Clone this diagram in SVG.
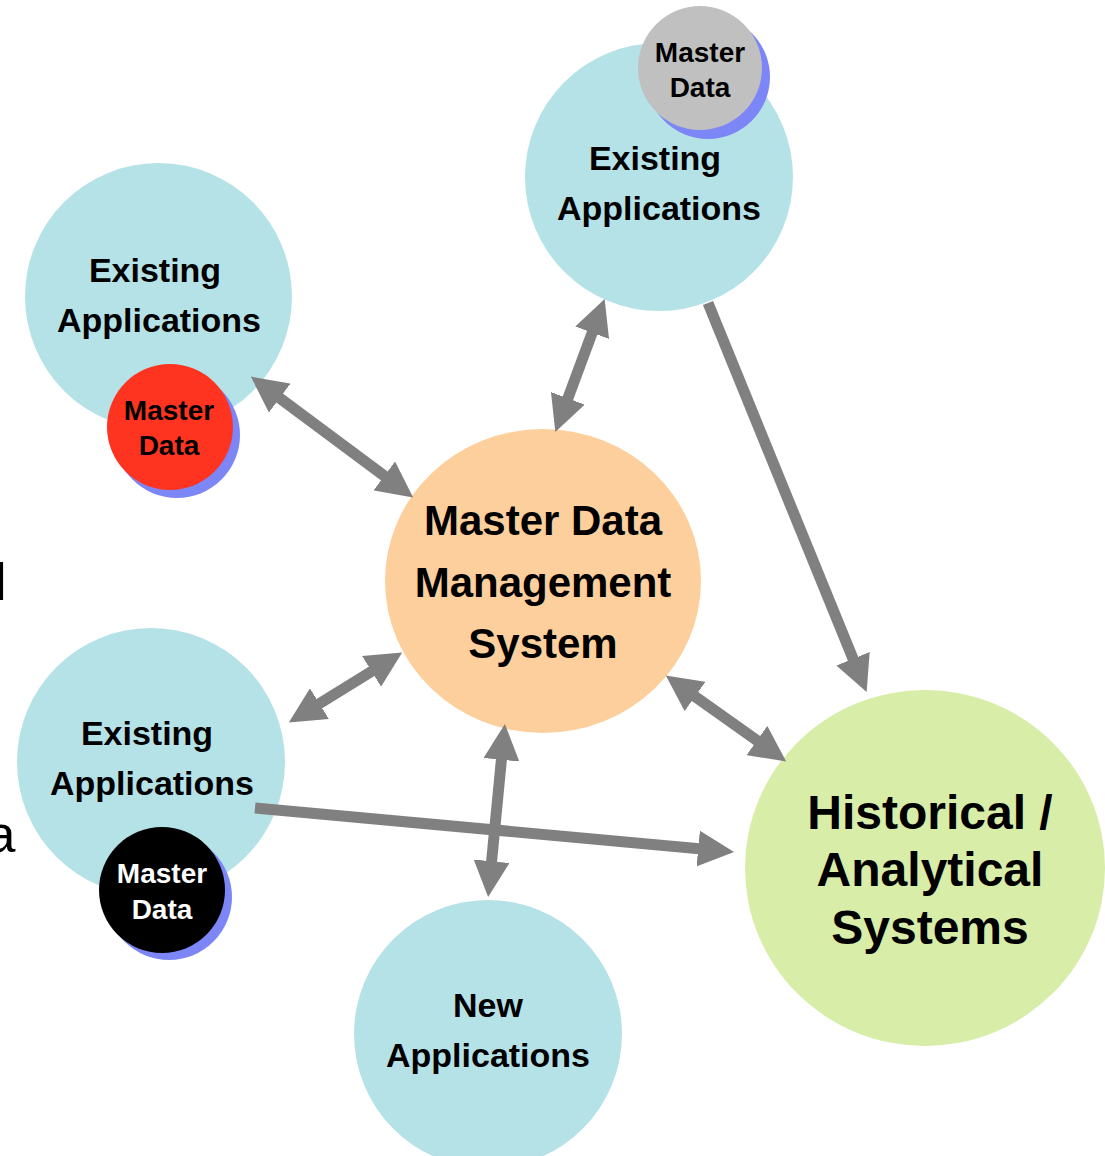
<svg xmlns="http://www.w3.org/2000/svg" width="1105" height="1156" viewBox="0 0 1105 1156">
<defs>
<style>
.app{fill:#b5e2e7}
.mdm{fill:#fdcf9c}
.hist{fill:#d8eda8}
.shadow{fill:#7d86f6}
.t{font-family:"Liberation Sans",Arial,sans-serif;font-weight:bold;text-anchor:middle;fill:#000}
.t34{font-size:34px}
.t28{font-size:28px}
.t42{font-size:42px}
.t48{font-size:48px}
.edge{font-family:"Liberation Sans",Arial,sans-serif;font-size:52px;fill:#000}
.conn{stroke:#808080;stroke-width:11;fill:none}
</style>
<marker id="head" markerUnits="userSpaceOnUse" markerWidth="36" markerHeight="36" refX="1" refY="18" orient="auto-start-reverse">
<path d="M0,0 L36,18 L0,36 z" fill="#808080"/>
</marker>
</defs>
<rect width="1105" height="1156" fill="#fff"/>
<text class="edge" x="-5" y="600">l</text>
<text class="edge" x="-13.5" y="852">a</text>

<g id="node-existing-topleft">
<circle class="app" cx="158.5" cy="296.5" r="133.5"/>
<text class="t t34" x="155" y="282">Existing</text>
<text class="t t34" x="159" y="332">Applications</text>
</g>
<g id="node-md-red">
<circle class="shadow" cx="177" cy="435" r="63"/>
<circle cx="170" cy="427" r="63" fill="#fe3420"/>
<text class="t t28" x="169" y="420">Master</text>
<text class="t t28" x="169" y="455">Data</text>
</g>

<g id="node-existing-topright">
<circle class="app" cx="659" cy="177" r="134"/>
<text class="t t34" x="655" y="170">Existing</text>
<text class="t t34" x="659" y="220">Applications</text>
</g>
<g id="node-md-gray">
<circle class="shadow" cx="708" cy="77" r="62"/>
<circle cx="700" cy="68" r="62" fill="#c0c0c0"/>
<text class="t t28" x="700" y="62">Master</text>
<text class="t t28" x="700" y="97">Data</text>
</g>

<g id="node-existing-bottomleft">
<circle class="app" cx="151" cy="762" r="134"/>
<text class="t t34" x="147" y="745">Existing</text>
<text class="t t34" x="152" y="795">Applications</text>
</g>
<g id="node-md-black">
<circle class="shadow" cx="169" cy="897" r="63"/>
<circle cx="162" cy="890" r="63" fill="#000"/>
<text class="t t28" x="162" y="883" style="fill:#fff">Master</text>
<text class="t t28" x="162" y="919" style="fill:#fff">Data</text>
</g>

<g id="node-mdm">
<ellipse class="mdm" cx="543" cy="581" rx="158" ry="152"/>
<text class="t t42" x="543" y="535">Master Data</text>
<text class="t t42" x="543" y="597">Management</text>
<text class="t t42" x="543" y="658">System</text>
</g>

<g id="node-historical">
<ellipse class="hist" cx="925" cy="868" rx="180" ry="178"/>
<text class="t t48" x="930" y="829">Historical /</text>
<text class="t t48" x="930" y="886">Analytical</text>
<text class="t t48" x="930" y="944">Systems</text>
</g>

<g id="node-new">
<circle class="app" cx="488" cy="1034" r="134"/>
<text class="t t34" x="488" y="1017">New</text>
<text class="t t34" x="488" y="1067">Applications</text>
</g>

<g id="connectors">
<line class="conn" x1="278.9" y1="397.5" x2="385.1" y2="476.5" marker-start="url(#head)" marker-end="url(#head)"/>
<line class="conn" x1="592.5" y1="331.8" x2="567.5" y2="399.3" marker-start="url(#head)" marker-end="url(#head)"/>
<line class="conn" x1="694.3" y1="695.9" x2="757.7" y2="741.1" marker-start="url(#head)" marker-end="url(#head)"/>
<line class="conn" x1="372.4" y1="670.9" x2="318.6" y2="704.1" marker-start="url(#head)" marker-end="url(#head)"/>
<line class="conn" x1="501.5" y1="758.8" x2="491.5" y2="862.2" marker-start="url(#head)" marker-end="url(#head)"/>
<line class="conn" x1="708" y1="303" x2="853.4" y2="659.7" marker-end="url(#head)"/>
<line class="conn" x1="255" y1="808" x2="699.2" y2="848.7" marker-end="url(#head)"/>
</g>
</svg>
